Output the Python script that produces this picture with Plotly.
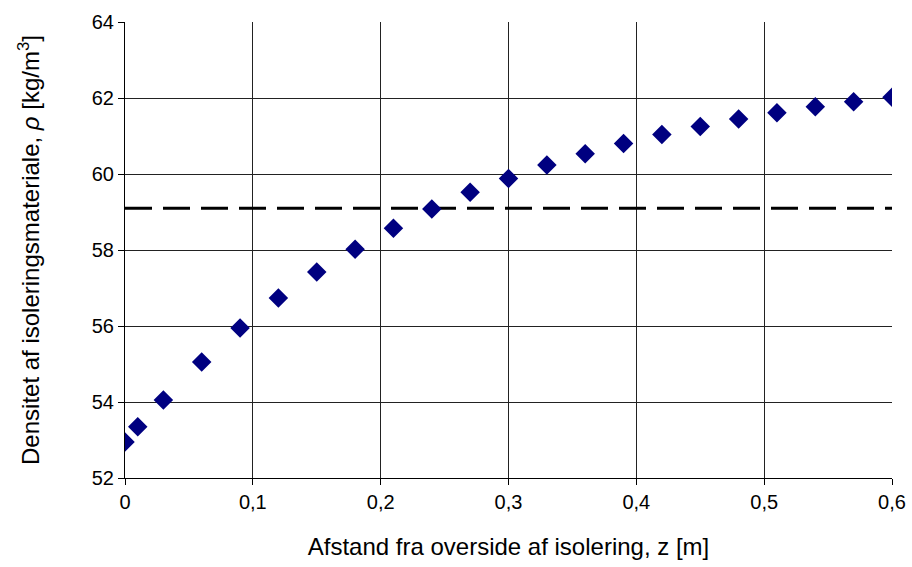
import plotly.graph_objects as go

z = [0, 0.01, 0.03, 0.06, 0.09, 0.12, 0.15, 0.18, 0.21, 0.24, 0.27, 0.30,
     0.33, 0.36, 0.39, 0.42, 0.45, 0.48, 0.51, 0.54, 0.57, 0.60]
rho = [52.95, 53.35, 54.05, 55.05, 55.95, 56.74, 57.42, 58.02, 58.57, 59.08, 59.52, 59.88,
       60.24, 60.53, 60.80, 61.04, 61.25, 61.45, 61.61, 61.77, 61.90, 62.02]
ref_x = [0, 0.6]
ref_y = [59.1, 59.1]
x_ticks = [0, 0.1, 0.2, 0.3, 0.4, 0.5, 0.6]
x_tick_labels = ["0", "0,1", "0,2", "0,3", "0,4", "0,5", "0,6"]
y_ticks = [52, 54, 56, 58, 60, 62, 64]

FONT = "Liberation Sans, Arial, sans-serif"

fig = go.Figure()
fig.add_trace(go.Scatter(x=ref_x, y=ref_y, mode="lines",
                         line=dict(color="black", width=3, dash="27px,11px"),
                         showlegend=False, hoverinfo="skip"))
fig.add_trace(go.Scatter(x=z, y=rho, mode="markers",
                         marker=dict(symbol="diamond", size=15, color="#000080",
                                     line=dict(width=0)),
                         showlegend=False))

fig.update_layout(
    width=912, height=567,
    margin=dict(l=125, r=20, t=22, b=89),
    paper_bgcolor="white", plot_bgcolor="white",
    font=dict(family=FONT, size=20, color="black"),
    xaxis=dict(range=[0, 0.6], tickvals=x_ticks, ticktext=x_tick_labels,
               tickfont=dict(family=FONT, size=20, color="black"),
               automargin=False, ticklabeloverflow="allow",
               showgrid=True, gridcolor="#222", gridwidth=1,
               showline=True, linecolor="black", linewidth=1,
               ticks="outside", ticklen=6, tickcolor="black",
               zeroline=False,
               title=dict(text="Afstand fra overside af isolering, z [m]",
                          font=dict(family=FONT, size=24, color="black"), standoff=26)),
    yaxis=dict(range=[52, 64], tickvals=y_ticks,
               tickfont=dict(family=FONT, size=20, color="black"),
               automargin=False,
               showgrid=True, gridcolor="#222", gridwidth=1,
               showline=True, linecolor="black", linewidth=1,
               ticks="outside", ticklen=6, tickcolor="black",
               zeroline=False,
               title=dict(text="Densitet af isoleringsmateriale, <i>ρ</i> [kg/m<sup>3</sup>]",
                          font=dict(family=FONT, size=24, color="black"), standoff=45)),
)

fig.write_html("out.html",
               config={"displayModeBar": False},
               post_script="document.body.style.margin='0';document.body.style.overflow='hidden';")
